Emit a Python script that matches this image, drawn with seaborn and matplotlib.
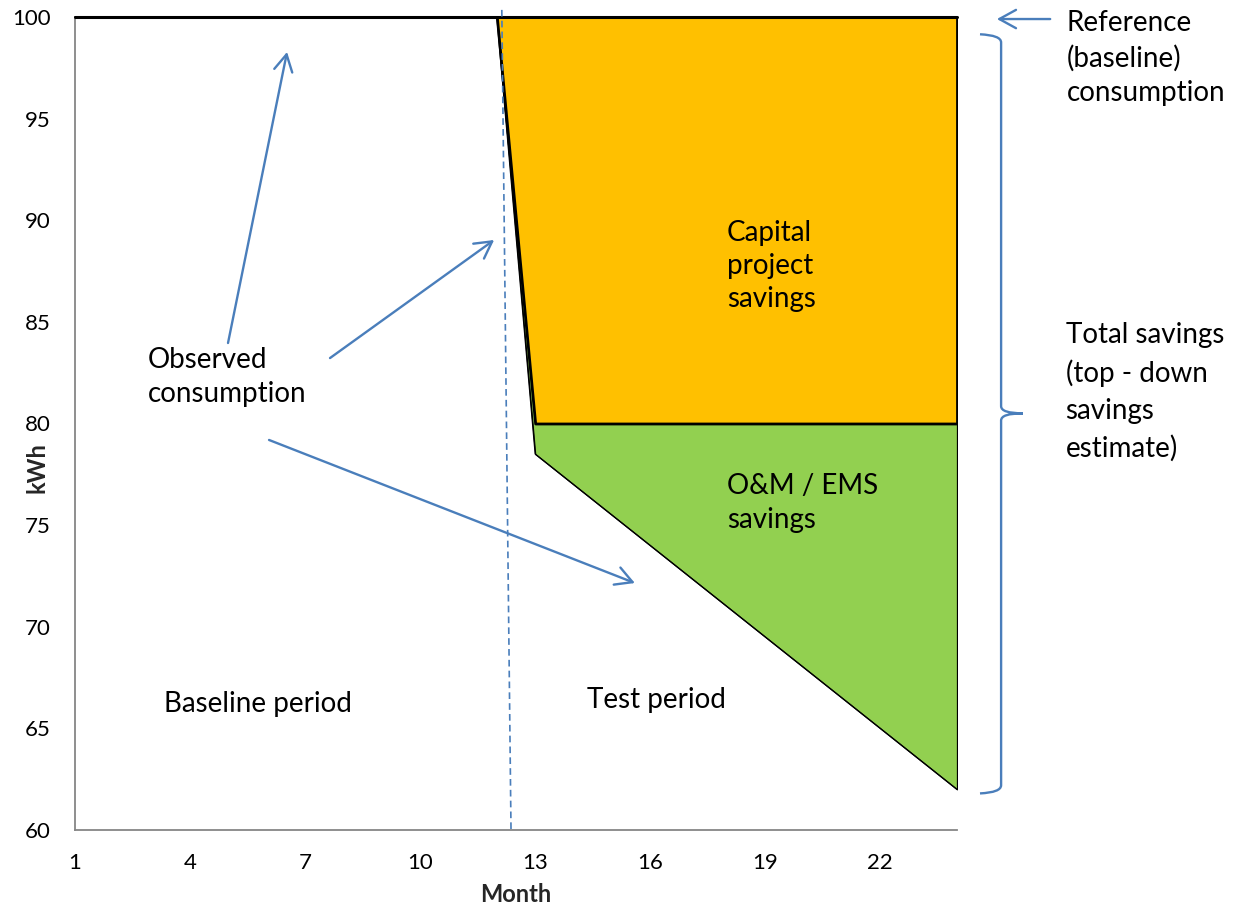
import numpy as np
import pandas as pd
import matplotlib
matplotlib.use("Agg")
import matplotlib.pyplot as plt
from matplotlib.path import Path
from matplotlib.patches import PathPatch
import seaborn as sns

# ---- data -------------------------------------------------------------
months = list(range(1, 25))
reference_kwh = [100.0] * 24
observed_kwh = [100.0] * 12 + [78.5, 77.0, 75.5, 74.0, 72.5, 71.0,
                               69.5, 68.0, 66.5, 65.0, 63.5, 62.0]
capital_level_kwh = [100.0] * 12 + [80.0] * 12
xtick_labels = ["1", "4", "7", "10", "13", "16", "19", "22"]
ytick_values = [60, 65, 70, 75, 80, 85, 90, 95, 100]
period_split = (12.13, 12.37)   # baseline / test period divider (top, bottom)

df = pd.DataFrame({"Month": months, "Reference": reference_kwh,
                   "Observed": observed_kwh, "Capital": capital_level_kwh})

# ---- style ------------------------------------------------------------
sns.set_theme(style="white")
plt.rcParams["font.family"] = ["Lato", "DejaVu Sans"]
AXIS_GREY = "#868686"
BLUE = "#4A7EBB"
YELLOW = "#FFC000"
GREEN = "#92D050"

fig = plt.figure(figsize=(12.38, 9.06), dpi=100)
ax = fig.add_axes([75 / 1238, 1 - 830 / 906, 882 / 1238, 813 / 906])

# savings areas
ax.fill_between(df["Month"], df["Observed"], df["Capital"],
                where=df["Observed"] <= df["Capital"], interpolate=True,
                facecolor=GREEN, edgecolor="black", linewidth=0.9, zorder=2)
ax.fill_between(df["Month"], df["Capital"], df["Reference"],
                facecolor=YELLOW, edgecolor="black", linewidth=2.0, zorder=3)

# consumption lines
sns.lineplot(data=df, x="Month", y="Observed", color="black", linewidth=0.9,
             ax=ax, zorder=4)
sns.lineplot(data=df, x="Month", y="Reference", color="black",
             linewidth=2.2, ax=ax, zorder=5)
for ln in ax.lines:
    ln.set_clip_on(False)

# divider between baseline and test period
ax.plot([period_split[0], period_split[1]], [100.35, 60], color=BLUE,
        linewidth=1.2, linestyle=(0, (4, 2.5)), clip_on=False, zorder=6)

# ---- axes -------------------------------------------------------------
ax.set_xlim(1, 24)
ax.set_ylim(60, 100)
ax.set_xticks(months)
ax.set_xticklabels([str(m) if str(m) in xtick_labels else "" for m in months])
ax.set_yticks(ytick_values)
ax.set_yticklabels([str(v) for v in ytick_values])
for side in ("top", "right"):
    ax.spines[side].set_visible(False)
for side in ("left", "bottom"):
    ax.spines[side].set_color(AXIS_GREY)
    ax.spines[side].set_linewidth(1.3)
ax.tick_params(axis="x", direction="out", length=5.5, width=1.3,
               color=AXIS_GREY, pad=11, labelsize=16, labelcolor="black")
ax.tick_params(axis="y", direction="out", length=5.5, width=1.3,
               color=AXIS_GREY, pad=12, labelsize=16, labelcolor="black")
ax.set_xlabel("Month", fontsize=17, fontweight="bold", labelpad=7)
ax.set_ylabel("kWh", fontsize=17, fontweight="bold")
ax.yaxis.set_label_coords(-0.030, 0.446)
ax.grid(False)

# ---- annotations ------------------------------------------------------
TXT = dict(fontsize=20, color="black", ha="left", va="center")

def arrow(start, tip):
    ax.annotate("", xy=tip, xytext=start, annotation_clip=False,
                arrowprops=dict(arrowstyle="->,head_length=0.6,head_width=0.33",
                                color=BLUE, lw=1.7, mutation_scale=20,
                                shrinkA=0, shrinkB=0))

arrow((4.99, 83.96), (6.53, 98.28))
arrow((7.65, 83.22), (11.93, 89.03))
arrow((6.06, 79.19), (15.60, 72.15))
arrow((26.43, 99.90), (25.04, 99.90))

ax.text(2.90, 82.3, "Observed\nconsumption", linespacing=1.37, **TXT)
ax.text(3.33, 66.2, "Baseline period", **TXT)
ax.text(14.34, 66.4, "Test period", **TXT)
ax.text(18.0, 87.75, "Capital\nproject\nsavings", linespacing=1.33, **TXT)
ax.text(18.0, 76.1, "O&M / EMS\nsavings", linespacing=1.37, **TXT)
ax.text(26.86, 97.98, "Reference\n(baseline)\nconsumption", linespacing=1.39,
        clip_on=False, **TXT)
ax.text(26.83, 81.55, "Total savings\n(top - down\nsavings\nestimate)",
        linespacing=1.51, clip_on=False, **TXT)

# curly brace spanning the total savings
x_v, x_hook, x_tip = 25.15, 24.60, 25.72
y_top, y_bot = reference_kwh[-1] - 0.9, observed_kwh[-1] - 0.15
y_mid = 80.5
verts = [(x_hook, y_top + 0.05), (x_v, y_top), (x_v, y_top - 0.35),
         (x_v, y_mid + 0.35), (x_v, y_mid), (x_tip, y_mid),
         (x_v, y_mid), (x_v, y_mid - 0.35),
         (x_v, y_bot + 0.35), (x_v, y_bot), (x_hook, y_bot - 0.05)]
codes = [Path.MOVETO, Path.CURVE3, Path.CURVE3,
         Path.LINETO, Path.CURVE3, Path.CURVE3,
         Path.CURVE3, Path.CURVE3,
         Path.LINETO, Path.CURVE3, Path.CURVE3]
ax.add_patch(PathPatch(Path(verts, codes), facecolor="none", edgecolor=BLUE,
                       linewidth=1.7, clip_on=False))

fig.savefig("out.png", dpi=100, facecolor="white")
